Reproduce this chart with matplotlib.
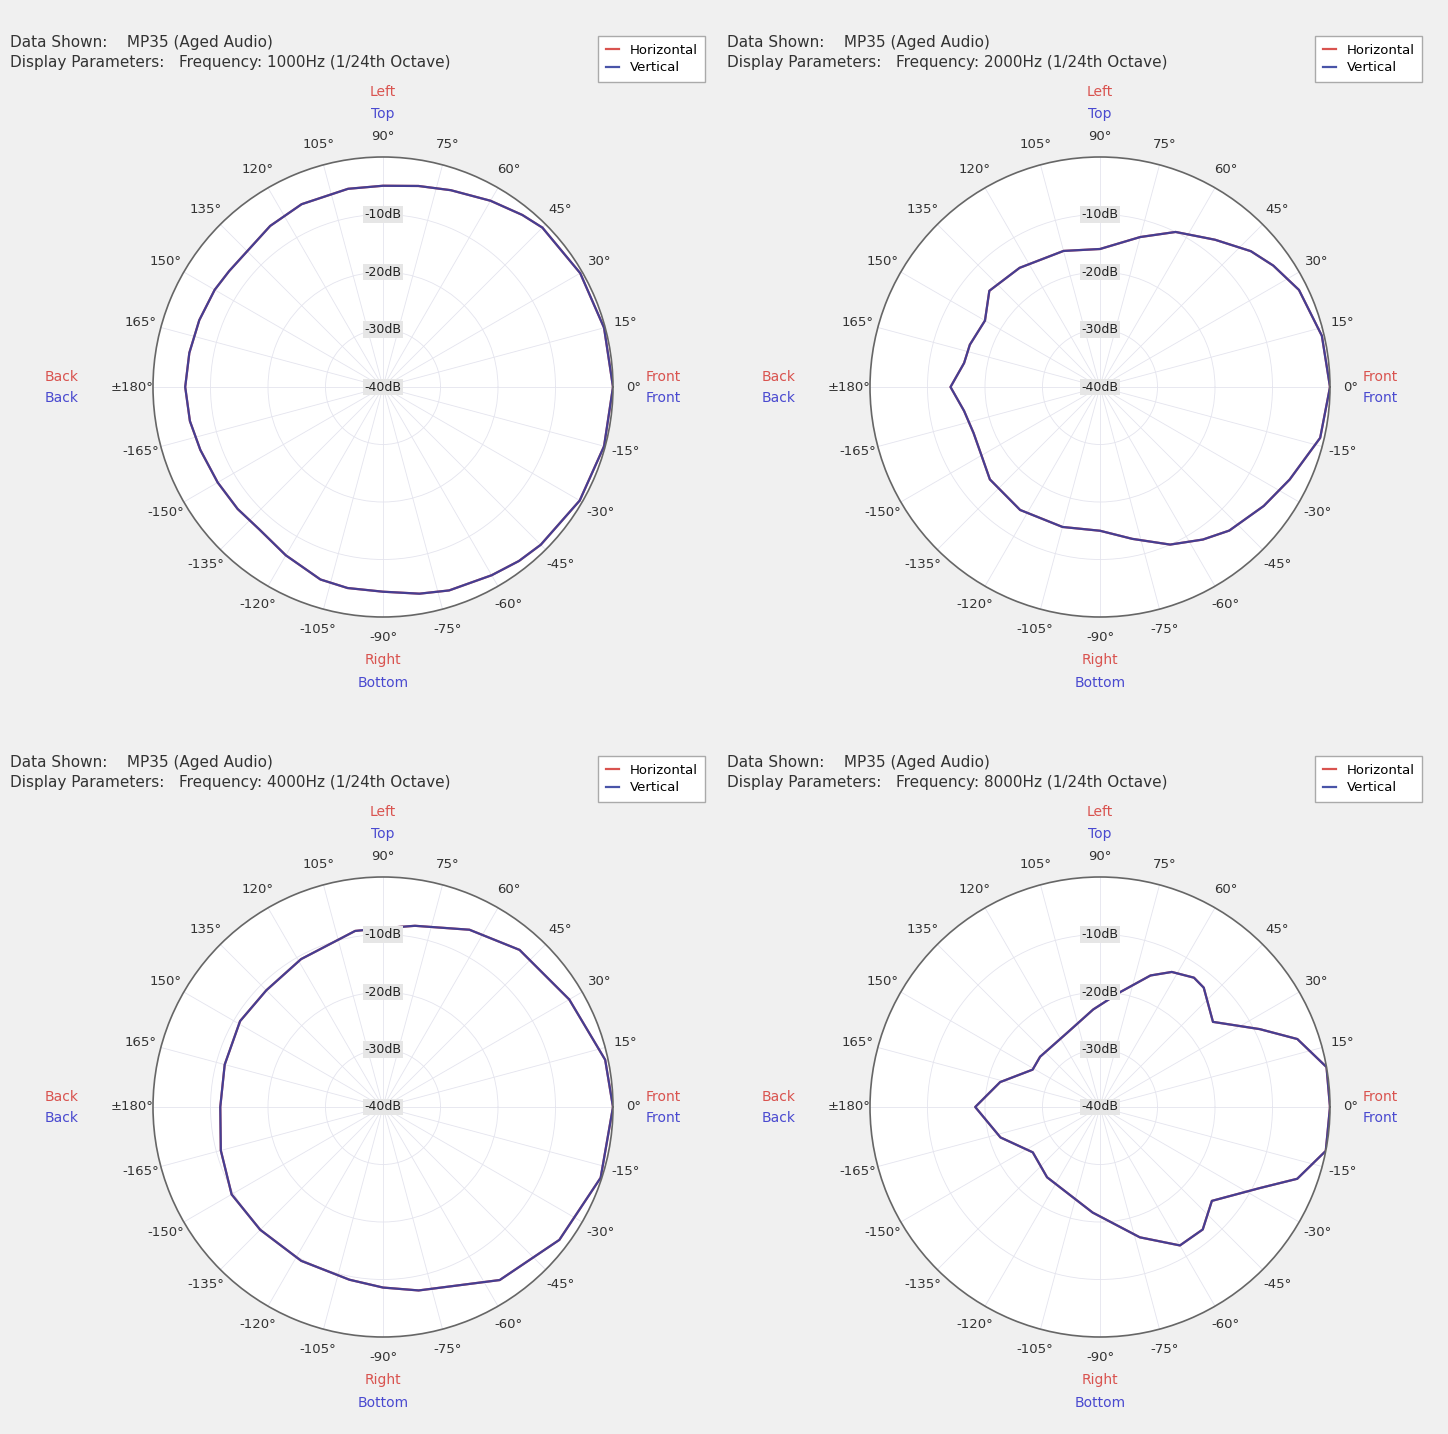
import numpy as np
import matplotlib.pyplot as plt

# polar response data, angle in degrees (0 = front, 90 = top/left), level in dB
ANG_1K = [0, 15, 30, 45, 51, 60, 71, 80, 90, 100, 114, 125, 135, 143, 150, 160, 170, 180,
          -170, -161, -150, -140, -131, -120, -108, -100, -90, -80, -72, -60, -52, -45, -30, -15]
DB_1K = [0.0, -0.2, -0.4, -0.8, -1.5, -2.6, -3.8, -4.5, -5.0, -5.0, -5.2, -5.8, -6.6, -6.5, -6.2, -6.0, -5.8, -5.6,
         -5.9, -6.4, -6.8, -7.0, -7.2, -6.2, -4.8, -4.5, -4.4, -3.5, -2.8, -2.2, -1.6, -1.2, -0.5, -0.2]

ANG_2K = [0, 13, 26, 35, 42, 52, 64, 75, 90, 105, 124, 139, 150, 162, 170, 180,
          -170, -160, -150, -140, -123, -105, -90, -78, -66, -56, -48, -36, -26, -13]
DB_2K = [0.0, -0.4, -1.5, -3.2, -4.7, -7.5, -10.0, -13.0, -16.0, -15.5, -15.0, -14.5, -16.9, -16.2, -16.0, -14.0,
         -16.0, -16.6, -16.2, -15.0, -14.5, -14.8, -15.0, -13.0, -10.0, -8.0, -6.4, -4.8, -3.3, -0.7]

ANG_4K = [0, 12, 30, 49, 64, 80, 90, 99, 119, 135, 149, 165, 180,
          -165, -150, -135, -118, -101, -90, -79, -56, -37, -18]
DB_4K = [0.0, -0.5, -2.6, -3.8, -5.7, -8.0, -8.9, -9.0, -10.6, -11.3, -11.0, -11.5, -11.7,
         -10.8, -9.6, -9.8, -9.7, -9.4, -8.6, -7.5, -3.7, -1.6, -0.2]

ANG_8K = [0, 10, 19, 26, 37, 49, 54, 62, 69, 80, 94, 114, 140, 151, 166, 180,
          -163, -146, -127, -94, -73, -60, -50, -40, -27, -20, -11]
DB_8K = [0.0, 0.0, -3.7, -9.1, -15.4, -12.5, -12.2, -13.4, -15.5, -19.7, -23.0, -25.9, -26.4, -26.6, -22.1, -18.3,
         -21.9, -25.9, -24.7, -21.6, -16.3, -12.2, -12.2, -14.6, -8.9, -3.5, 0.0]

FREQS = ["1000Hz", "2000Hz", "4000Hz", "8000Hz"]
ANGLES = [ANG_1K, ANG_2K, ANG_4K, ANG_8K]
HORIZ = [DB_1K, DB_2K, DB_4K, DB_8K]
VERT = [DB_1K, DB_2K, DB_4K, DB_8K]  # both curves lie on top of each other

RINGS = [-10, -20, -30, -40]
THETA_LABELS = ["0°", "15°", "30°", "45°", "60°", "75°", "90°", "105°", "120°", "135°", "150°", "165°",
                "±180°", "-165°", "-150°", "-135°", "-120°", "-105°", "-90°", "-75°", "-60°", "-45°", "-30°", "-15°"]

RED = "#d9534f"
BLUE = "#4a4ad0"
W, H = 1448, 1434


def close(a, v):
    a = np.deg2rad(np.asarray(a + [a[0]], dtype=float))
    return a, np.asarray(v + [v[0]], dtype=float)


def panel(fig, cx, cy, idx):
    r = 230
    ax = fig.add_axes([(cx - r) / W, (H - cy - r) / H, 2 * r / W, 2 * r / H], projection='polar')
    ax.set_facecolor('white')
    ax.set_ylim(-40, 0)
    ax.set_yticks([-10, -20, -30])
    ax.set_yticklabels([])
    ax.set_xticks(np.deg2rad(np.arange(0, 360, 15)))
    ax.set_xticklabels(THETA_LABELS, fontsize=9.5, color='#333333')
    ax.set_xticks(np.deg2rad(np.arange(0, 360, 5)), minor=True)
    ax.tick_params(axis='x', which='major', pad=3, direction='out', length=5, color='#555555')
    ax.tick_params(axis='x', which='minor', direction='out', length=3, color='#777777')
    ax.grid(True, color='#e4e4ee', linewidth=0.6)
    ax.spines['polar'].set_color('#666666')
    ax.spines['polar'].set_linewidth(1.2)

    th, h = close(ANGLES[idx], HORIZ[idx])
    ax.plot(th, h, color=RED, lw=1.6, label='Horizontal')
    th, v = close(ANGLES[idx], VERT[idx])
    ax.plot(th, v, color='#303c9c', lw=1.6, alpha=0.88, label='Vertical')

    for val in RINGS:
        ax.text(np.pi / 2, val, f"{val}dB", ha='center', va='center', fontsize=9, color='#222222',
                bbox=dict(boxstyle='square,pad=0.15', fc='#e6e6e6', ec='none'))

    # direction names around the plot
    ax.text(0.5, 1.141, "Left", transform=ax.transAxes, ha='center', va='center', color=RED, fontsize=10)
    ax.text(0.5, 1.093, "Top", transform=ax.transAxes, ha='center', va='center', color=BLUE, fontsize=10)
    ax.text(-0.198, 0.522, "Back", transform=ax.transAxes, ha='center', va='center', color=RED, fontsize=10)
    ax.text(-0.198, 0.476, "Back", transform=ax.transAxes, ha='center', va='center', color=BLUE, fontsize=10)
    ax.text(1.11, 0.522, "Front", transform=ax.transAxes, ha='center', va='center', color=RED, fontsize=10)
    ax.text(1.11, 0.476, "Front", transform=ax.transAxes, ha='center', va='center', color=BLUE, fontsize=10)
    ax.text(0.5, -0.093, "Right", transform=ax.transAxes, ha='center', va='center', color=RED, fontsize=10)
    ax.text(0.5, -0.143, "Bottom", transform=ax.transAxes, ha='center', va='center', color=BLUE, fontsize=10)

    # header text and legend of each quadrant
    x0 = cx - 373
    y0 = cy - 345
    fig.text(x0 / W, 1 - y0 / H, "Data Shown:    MP35 (Aged Audio)", fontsize=11, color='#333333', va='center')
    fig.text(x0 / W, 1 - (y0 + 20) / H,
             f"Display Parameters:   Frequency: {FREQS[idx]} (1/24th Octave)",
             fontsize=11, color='#333333', va='center')
    ax.legend(loc='upper right', bbox_to_anchor=((cx + 329) / W, 1 - (cy - 358) / H),
              bbox_transform=fig.transFigure, fontsize=9.5, handlelength=1.0, fancybox=False,
              edgecolor='#aaaaaa', framealpha=1, borderpad=0.6, labelspacing=0.35)
    return ax


def main():
    fig = plt.figure(figsize=(W / 100, H / 100), dpi=100, facecolor='#f0f0f0')
    centers = [(383, 387), (1100, 387), (383, 1107), (1100, 1107)]
    for i, (cx, cy) in enumerate(centers):
        panel(fig, cx, cy, i)
    fig.savefig('out.png', dpi=100, facecolor=fig.get_facecolor())


if __name__ == '__main__':
    main()
